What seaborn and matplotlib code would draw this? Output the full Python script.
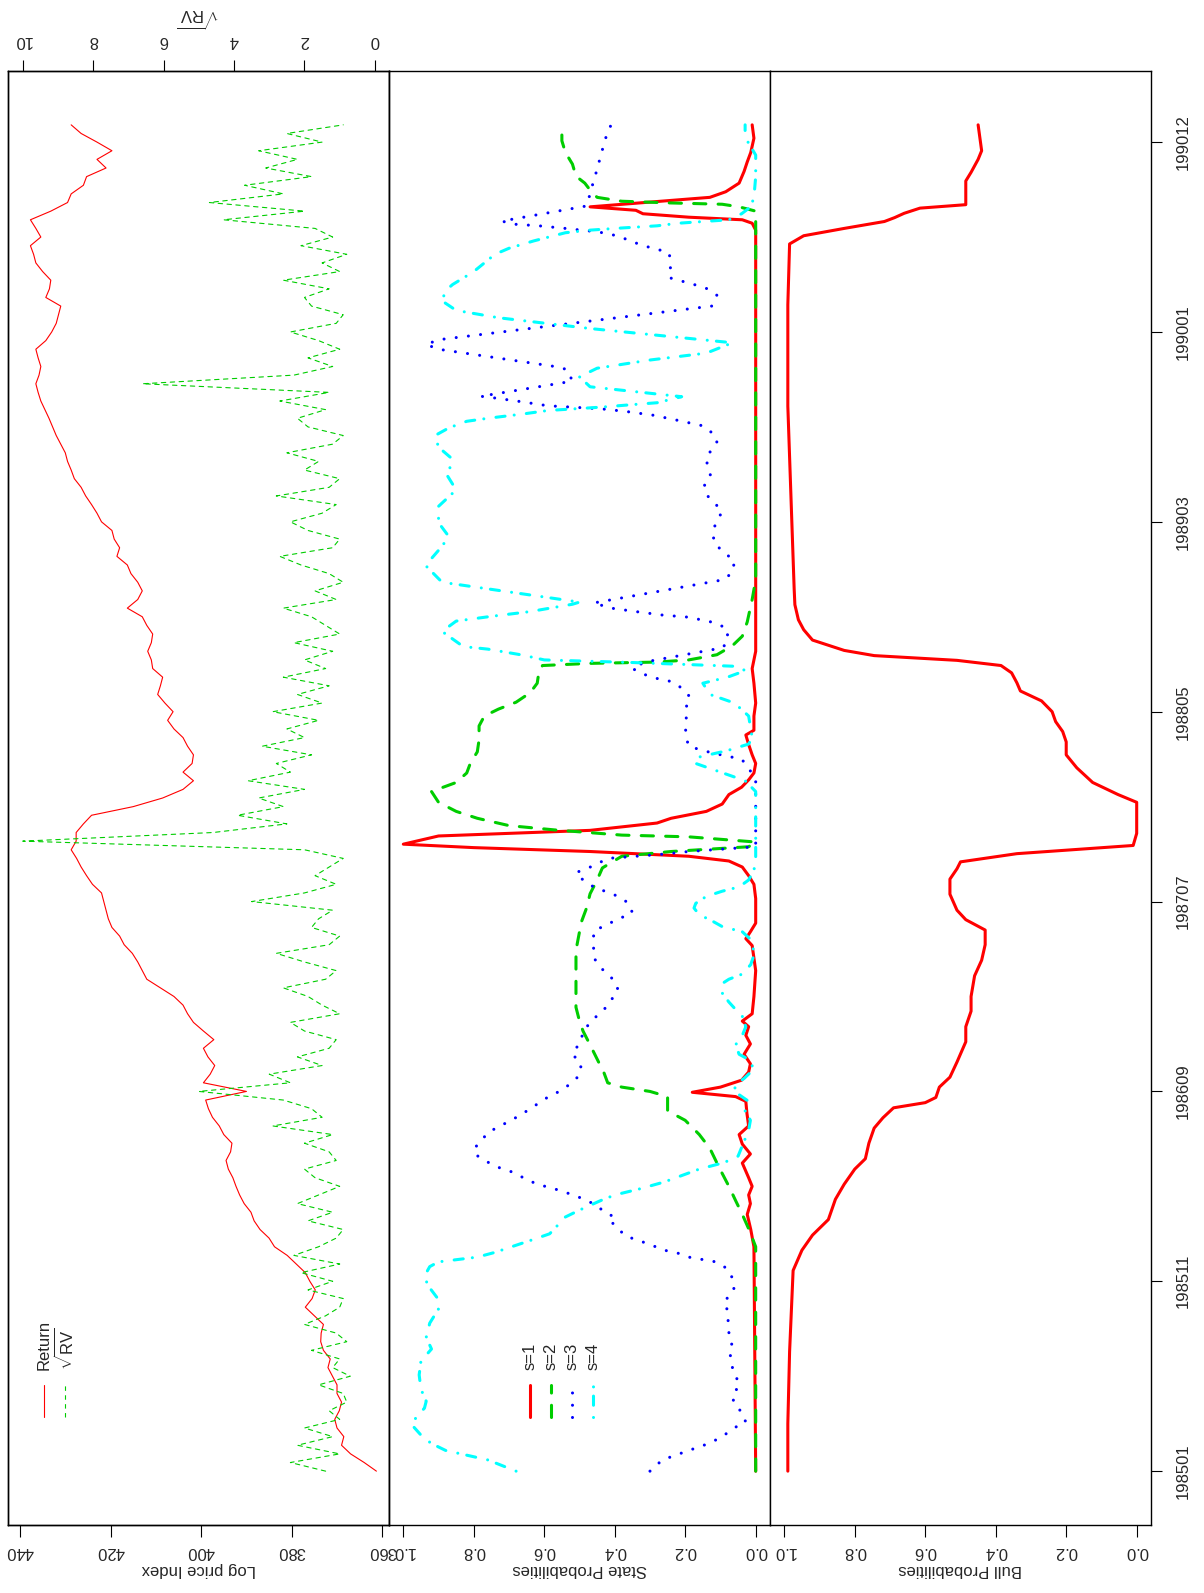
import matplotlib
matplotlib.use("Agg")
import matplotlib.pyplot as plt
import seaborn as sns
import numpy as np

# ---------------- data ----------------
# time index (weeks since 1985-01), ticks every 44 weeks
tick_pos = [0, 44, 88, 132, 176, 220, 264, 308]
tick_labels = ["198501", "198511", "198609", "198707", "198805", "198903", "199001", "199012"]

week_grid = list(range(0, 313, 2))

log_price = [
    361.3, 364.0, 367.0, 369.0, 368.5, 370.0, 370.5, 369.5, 369.0, 370.0,
    370.0, 371.0, 372.0, 371.5, 373.0, 373.6, 373.5, 373.0, 375.0, 377.0,
    375.5, 374.8, 376.0, 377.0, 379.0, 381.0, 383.8, 385.0, 387.0, 388.3,
    389.0, 390.5, 391.5, 392.3, 393.0, 394.0, 394.5, 393.5, 393.2, 395.0,
    396.0, 397.5, 398.4, 399.0, 390.0, 399.5, 398.0, 397.0, 398.5, 399.5,
    397.2, 399.5, 401.7, 403.0, 404.0, 406.0, 409.0, 412.0, 413.0, 414.0,
    415.2, 417.0, 418.0, 419.7, 420.5, 421.0, 421.5, 422.0, 424.0, 425.3,
    426.5, 427.5, 428.7, 427.6, 427.6, 426.0, 424.2, 415.0, 408.5, 404.0,
    401.7, 404.0, 402.0, 401.7, 403.0, 404.0, 406.0, 407.4, 406.2, 408.0,
    409.6, 409.0, 408.5, 410.7, 411.0, 411.8, 411.0, 410.7, 412.0, 413.0,
    416.3, 414.0, 413.0, 414.0, 415.5, 416.3, 418.6, 418.0, 419.2, 419.7,
    422.0, 423.0, 424.2, 425.5, 426.5, 428.0, 428.7, 429.5, 430.0, 431.0,
    432.0, 432.8, 433.6, 434.5, 435.4, 436.0, 436.5, 435.8, 435.4, 436.0,
    436.5, 434.3, 433.0, 432.0, 431.5, 431.0, 434.3, 433.5, 433.2, 435.0,
    436.5, 437.0, 437.7, 435.4, 436.5, 437.7, 433.2, 429.5, 428.7, 426.0,
    425.3, 421.0, 423.0, 419.7, 423.0, 426.5, 428.7,
]

sqrt_rv = [
    1.4, 2.4, 1.0, 2.2, 1.2, 2.0,
    1.0, 1.3, 0.8, 0.9, 1.6, 0.7, 1.2, 1.0, 1.8, 0.8,
    1.1, 2.0, 1.4, 1.0, 0.9, 1.9, 1.2, 2.1, 1.0, 2.3,
    1.6, 1.1, 0.9, 1.9, 1.2, 2.2, 1.6, 1.0, 1.7, 2.0,
    1.1, 1.3, 2.0, 1.2, 2.9, 1.5,
    1.8, 2.6, 5.0, 2.4, 3.0, 1.5, 2.2,
    1.3, 1.1, 2.0, 2.4, 1.0, 1.5, 1.9, 2.6, 1.4, 1.1, 2.0, 2.8, 1.3, 1.0, 1.8, 1.6, 1.2,
    3.5, 2.0, 1.1, 1.7, 1.3, 0.9, 2.0,
    10.0, 4.6, 2.5, 3.9, 2.6, 3.3, 2.0, 3.6, 2.4, 2.8, 1.8, 3.2, 2.0, 2.5, 1.6, 2.9,
    1.5, 2.2, 1.3, 2.6, 1.4, 2.0,
    1.2, 2.3, 1.0, 1.4, 1.8, 2.6, 1.1, 1.7, 0.9, 1.3, 2.1, 2.7, 1.2, 1.0, 1.9, 2.4,
    1.5, 1.1, 2.8, 1.3, 1.0, 2.0, 1.6, 2.5, 1.2, 0.9, 1.9, 2.2, 1.4, 2.7, 1.3,
    6.6, 2.3,
    1.2, 1.9, 1.0, 1.6, 2.4, 1.1, 0.9, 1.8, 2.0, 1.3, 2.6, 1.0, 1.5, 0.8, 2.1, 1.2, 1.7,
    4.3, 2.0, 4.7, 2.6, 3.7, 1.8, 3.1, 2.2, 3.3, 1.5, 2.5, 0.9,
]

# state probabilities: (week, probability)
state1 = [
    (0, 0.0), (52, 0.005), (56, 0.014), (59.5, 0.024), (62, 0.015), (64, 0.02), (66, 0.01),
    (68, 0.02), (71.4, 0.038), (73.5, 0.015), (75.8, 0.038), (78, 0.047), (80, 0.02),
    (83, 0.025), (85.7, 0.028), (86.8, 0.057), (87.8, 0.18), (89, 0.10), (90.6, 0.04),
    (92.5, 0.02), (94.4, 0.015), (96.6, 0.033), (99, 0.015), (101, 0.028), (103, 0.02),
    (104.3, 0.038), (106, 0.01), (110, 0.005), (116, 0.0), (121.8, 0.01), (123.4, 0.028),
    (125, 0.015), (127, 0.0), (132.7, 0.0), (136, 0.005), (138, 0.02), (140, 0.038),
    (141.4, 0.076), (142.5, 0.19), (143.6, 0.47), (144.5, 0.8), (145.3, 1.0), (147.2, 0.9),
    (148.5, 0.47), (150.2, 0.28), (151.3, 0.24), (152.9, 0.14), (154.6, 0.095),
    (156.8, 0.076), (158.5, 0.04), (160.2, 0.02), (161.8, 0.005), (164, 0.0), (166, 0.01),
    (168.4, 0.02), (170.6, 0.028), (171.7, 0.005), (175, 0.005), (178, 0.0), (182.6, 0.005),
    (186, 0.01), (190, 0.0), (287.6, 0.0), (289.2, 0.01), (290, 0.038), (290.6, 0.19),
    (291.4, 0.32), (292.2, 0.34), (293, 0.47), (294.1, 0.3), (295.2, 0.13), (296.5, 0.085),
    (298.5, 0.047), (301.2, 0.033), (303.4, 0.024), (305.6, 0.014), (308.9, 0.005), (312, 0.01),
]

state2 = [
    (0, 0.0), (52, 0.0), (56, 0.019), (59.5, 0.038), (62.7, 0.057), (66, 0.076), (70.4, 0.104),
    (74.8, 0.13), (78, 0.16), (81.3, 0.2), (83.5, 0.25), (86.8, 0.25), (88, 0.30), (89, 0.38),
    (90, 0.42), (92.2, 0.43), (95.5, 0.45), (98.8, 0.47), (102, 0.49), (104.3, 0.50),
    (107.5, 0.51), (111.9, 0.51), (116.3, 0.51), (120.7, 0.51), (125, 0.50), (127.2, 0.495),
    (130.5, 0.48), (133.8, 0.47), (137, 0.45), (139.8, 0.435), (142.5, 0.38), (143.6, 0.24),
    (144.7, 0.02), (145.8, 0.0), (147, 0.19), (147.4, 0.38), (148.6, 0.57), (149.6, 0.70),
    (151.3, 0.79), (152.9, 0.85), (155, 0.90), (157.5, 0.92), (159.6, 0.85), (161.8, 0.82),
    (164, 0.81), (166.7, 0.79), (169.5, 0.785), (172.7, 0.785), (175, 0.77), (176.6, 0.73),
    (178.2, 0.68), (180.4, 0.64), (182.6, 0.62), (185.3, 0.615), (186.7, 0.605),
    (187.2, 0.47), (187.5, 0.28), (188, 0.19), (189.2, 0.11), (191.3, 0.066), (193.5, 0.038),
    (196.8, 0.024), (202, 0.01), (206.6, 0.0), (292, 0.0), (293, 0.047), (293.6, 0.095),
    (293.9, 0.24), (294.3, 0.38), (295.2, 0.45), (296.9, 0.47), (298.5, 0.485),
    (300.1, 0.51), (302.9, 0.52), (305.6, 0.54), (308.3, 0.55), (312, 0.55),
]

state3 = [
    (0, 0.30), (2.6, 0.265), (3.7, 0.227), (4.8, 0.19), (5.9, 0.15), (7, 0.118), (8.6, 0.085),
    (10.2, 0.057), (11.3, 0.028), (13.5, 0.038), (15.7, 0.062), (17.9, 0.066), (19.6, 0.047),
    (21.2, 0.052), (23.4, 0.066), (25.5, 0.066), (27.7, 0.076), (29.9, 0.066), (32.1, 0.076),
    (33.7, 0.08), (36.5, 0.076), (39.2, 0.09), (41.9, 0.062), (44.1, 0.062), (46.9, 0.08),
    (48.5, 0.113), (49.6, 0.19), (50.7, 0.227), (51.2, 0.26), (52.3, 0.293), (53.4, 0.33),
    (54.5, 0.37), (56.2, 0.39), (57.8, 0.41), (58.9, 0.40), (60, 0.43), (61.6, 0.45),
    (62.7, 0.48), (63.8, 0.51), (65.4, 0.57), (66.5, 0.62), (67.6, 0.65), (69.3, 0.69),
    (70.4, 0.73), (72, 0.77), (73.1, 0.79), (74.7, 0.80), (76.4, 0.78), (78.5, 0.76),
    (80.2, 0.72), (82.4, 0.67), (84.5, 0.63), (86.2, 0.60), (87.9, 0.56), (89.5, 0.53),
    (91.7, 0.50), (94.4, 0.495), (96.6, 0.52), (99.9, 0.495), (102, 0.49), (104.8, 0.46),
    (107, 0.43), (109.2, 0.41), (111.4, 0.39), (113.6, 0.40), (116.3, 0.435), (119, 0.46),
    (121.8, 0.46), (125, 0.46), (126.2, 0.435), (128.3, 0.38), (129.4, 0.35), (131.6, 0.36),
    (133.2, 0.39), (135.4, 0.46), (137, 0.49), (138.7, 0.51), (140.3, 0.46), (142, 0.42),
    (142.5, 0.34), (143, 0.26), (143.6, 0.19), (144.7, 0.0), (160, 0.0), (163, 0.02),
    (165, 0.04), (166.2, 0.11), (167, 0.15), (168, 0.19), (170.8, 0.20), (173.8, 0.196),
    (176.6, 0.20), (179.3, 0.185), (181.5, 0.21), (183, 0.24), (183.7, 0.28), (184.6, 0.315),
    (186, 0.35), (187.5, 0.315), (190.8, 0.095), (192.1, 0.08), (195.2, 0.08), (196.6, 0.115),
    (197.9, 0.19), (198.4, 0.265), (199.2, 0.34), (200, 0.41), (201.2, 0.46), (206.6, 0.09),
    (208.3, 0.066), (211, 0.06), (213.2, 0.095), (215.4, 0.12), (218.7, 0.118), (222.5, 0.095),
    (226.3, 0.14), (228.5, 0.145), (230.7, 0.128), (232.9, 0.137), (235, 0.14), (238.4, 0.11),
    (240, 0.115), (242.2, 0.147), (243.5, 0.22), (244.7, 0.29), (245.6, 0.37), (246.2, 0.44),
    (246.9, 0.59), (247.9, 0.67), (248.7, 0.74), (249.1, 0.78), (252.6, 0.52), (255.3, 0.535),
    (256, 0.57), (260, 0.90), (261.1, 0.935), (262.2, 0.90), (270, 0.125), (272.5, 0.11),
    (274.1, 0.14), (275, 0.175), (276.6, 0.246), (280, 0.24), (282.3, 0.246), (283.2, 0.28),
    (284, 0.32), (285.1, 0.355), (286.2, 0.39), (286.9, 0.426), (287.3, 0.46), (288, 0.54),
    (288.6, 0.615), (289, 0.69), (289.7, 0.72), (293.2, 0.48), (296, 0.47), (299, 0.46),
    (301.7, 0.45), (304.8, 0.44), (307.7, 0.43), (310.5, 0.42), (312, 0.41),
]

state4 = [
    (0, 0.68), (2.6, 0.76), (3.7, 0.82), (4.8, 0.88), (6.4, 0.92), (8, 0.946), (10.2, 0.97),
    (12.4, 0.965), (14.6, 0.94), (16.2, 0.935), (19, 0.95), (22.3, 0.955), (25.5, 0.95),
    (28.3, 0.92), (31, 0.935), (34.3, 0.925), (37.6, 0.90), (40.3, 0.905), (43, 0.93),
    (45.2, 0.94), (47.4, 0.925), (48.5, 0.90), (49, 0.85), (49.6, 0.79), (50.7, 0.74),
    (51.8, 0.70), (52.9, 0.66), (54, 0.62), (55, 0.585), (56.2, 0.57), (57.2, 0.56),
    (58.9, 0.54), (60.5, 0.50), (62.7, 0.44), (64, 0.40), (65.4, 0.33), (67, 0.26),
    (68.5, 0.21), (70, 0.16), (71.5, 0.09), (73, 0.05), (75, 0.04), (77, 0.03), (79, 0.02),
    (81.3, 0.015), (83.5, 0.03), (85.7, 0.02), (87.8, 0.057), (89.5, 0.06), (91, 0.033),
    (92.8, 0.01), (95, 0.01), (96.6, 0.047), (98.8, 0.057), (101, 0.038), (103, 0.028),
    (105.4, 0.038), (107, 0.057), (108.7, 0.076), (110.8, 0.095), (113, 0.095), (114, 0.076),
    (115.2, 0.038), (117.4, 0.014), (119.6, 0.005), (122.9, 0.01), (125, 0.038), (126.2, 0.095),
    (127.8, 0.13), (128.9, 0.16), (130.5, 0.175), (131.6, 0.17), (133.2, 0.14), (134.4, 0.095),
    (135.4, 0.047), (137, 0.02), (139.3, 0.005), (141.4, 0.0), (157.5, 0.0), (160, 0.03),
    (162, 0.1), (164, 0.17), (165.5, 0.16), (167, 0.08), (168.5, 0.02), (170, 0.01),
    (175, 0.02), (178, 0.06), (180, 0.13), (182.6, 0.15), (184, 0.08), (185.5, 0.03),
    (186.5, 0.05), (187.4, 0.35), (188, 0.6), (189.1, 0.66), (190.5, 0.76), (191.1, 0.83),
    (194.6, 0.89), (197, 0.85), (198.1, 0.75), (199.2, 0.64), (200.9, 0.52), (201.4, 0.5),
    (206, 0.89), (209.9, 0.937), (213.4, 0.90), (216.5, 0.87), (219.8, 0.90), (223.6, 0.90),
    (227.4, 0.85), (230.7, 0.875), (234.5, 0.86), (237.3, 0.90), (240, 0.91), (241.8, 0.87),
    (243.3, 0.82), (244, 0.76), (245, 0.66), (245.8, 0.59), (246.2, 0.51), (246.6, 0.435),
    (247.1, 0.36), (247.6, 0.28), (249, 0.21), (251.3, 0.47), (253.6, 0.50), (255.6, 0.45),
    (257.5, 0.30), (259.1, 0.14), (261.5, 0.066), (264.8, 0.47), (267.3, 0.73), (269, 0.85),
    (271.2, 0.89), (273.6, 0.88), (275, 0.86), (278, 0.80), (280, 0.77), (282, 0.74),
    (283.4, 0.70), (285.1, 0.63), (287, 0.54), (287.6, 0.47), (288.1, 0.38), (288.6, 0.28),
    (289.2, 0.22), (289.7, 0.13), (290, 0.076), (291.4, 0.04), (293, 0.014), (295.2, 0.005),
    (300, 0.0), (305, 0.0), (308.3, 0.024), (310.5, 0.03), (312, 0.03),
]

bull = [
    (0, 0.99), (11, 0.99), (27.7, 0.985), (46.5, 0.975), (51.2, 0.95), (54.7, 0.92),
    (58.3, 0.875), (63, 0.855), (66.5, 0.83), (70, 0.80), (72.4, 0.77), (76, 0.76),
    (79.5, 0.745), (81.9, 0.72), (84.2, 0.69), (85.4, 0.60), (86.6, 0.57), (89, 0.56),
    (91.3, 0.53), (94.8, 0.51), (99.5, 0.485), (103, 0.485), (106.6, 0.47), (110, 0.47),
    (114.8, 0.46), (118.4, 0.44), (122, 0.43), (125.4, 0.43), (127.8, 0.485), (130, 0.51),
    (133.7, 0.53), (137.2, 0.53), (139.6, 0.51), (141.2, 0.50), (143.1, 0.34), (145, 0.01),
    (147.8, 0.0), (155, 0.0), (156.8, 0.053), (159.6, 0.125), (163, 0.17), (166, 0.2),
    (169, 0.2), (171.4, 0.21), (173.7, 0.23), (176, 0.24), (178.5, 0.27), (180.8, 0.33),
    (182.7, 0.34), (185, 0.355), (186.7, 0.385), (187.9, 0.51), (189, 0.745), (190.2, 0.83),
    (192.6, 0.92), (195, 0.945), (197.3, 0.96), (200.8, 0.97), (204.4, 0.972), (223.2, 0.98),
    (246.8, 0.99), (270.3, 0.99), (284.4, 0.985), (286.3, 0.945), (288, 0.83), (289.6, 0.716),
    (290.5, 0.687), (291.5, 0.66), (292.7, 0.615), (293.5, 0.485), (299, 0.485), (301, 0.47),
    (304, 0.45), (306, 0.44), (309, 0.445), (312, 0.45),
]

# ---------------- style ----------------
sns.set_style("ticks")
plt.rcParams["font.family"] = ["Liberation Sans", "DejaVu Sans"]
plt.rcParams["mathtext.fontset"] = "custom"
plt.rcParams["mathtext.rm"] = "Liberation Sans"
plt.rcParams["mathtext.it"] = "Liberation Sans"
plt.rcParams["axes.linewidth"] = 1.0
plt.rcParams["axes.edgecolor"] = "black"

RED, GREEN, BLUE, CYAN = "#FF0000", "#00CD00", "#0000FF", "#00FFFF"
LS_SOLID = "-"
LS_DASH = (0, (4, 4))
LS_DOT = (0, (0.01, 4))
LS_DASHDOT = (0, (0.01, 4, 3, 3))

W, H = 1204, 1593
fig = plt.figure(figsize=(W / 100, H / 100), dpi=100)
top_px, bot_px = 71, 1525
edges = [8, 389, 770, 1151]
axes = []
for i in range(3):
    ax = fig.add_axes([edges[i] / W, (H - bot_px) / H, (edges[i + 1] - edges[i]) / W,
                       (bot_px - top_px) / H])
    axes.append(ax)
ax1, ax2, ax3 = axes

T_LIM = (-12.48, 324.48)
FS = 12


def draw(ax, t, v, color, lw, ls):
    sns.lineplot(x=list(v), y=list(t), orient="y", sort=False, estimator=None, color=color,
                 linewidth=lw, linestyle=ls, ax=ax, dash_capstyle="round",
                 solid_capstyle="round", solid_joinstyle="round")


# panel 1: log price + sqrt RV
draw(ax1, week_grid, log_price, RED, 0.8, LS_SOLID)
ax1b = ax1.twiny()
draw(ax1b, week_grid, sqrt_rv, GREEN, 0.8, LS_DASH)
ax1.set_xlim(442.65, 358.52)
ax1b.set_xlim(10.42, -0.40)
ax1.set_xticks([360, 380, 400, 420, 440])
ax1.set_xticklabels(["360", "380", "400", "420", "440"])
ax1b.set_xticks([0, 2, 4, 6, 8, 10])
ax1b.set_xticklabels(["0", "2", "4", "6", "8", "10"])

# panel 2: state probabilities
for data, col, ls in [(state1, RED, LS_SOLID), (state2, GREEN, LS_DASH),
                      (state3, BLUE, LS_DOT), (state4, CYAN, LS_DASHDOT)]:
    tt = [p[0] for p in data]
    vv = [p[1] for p in data]
    draw(ax2, tt, vv, col, 2.2, ls)

# panel 3: bull probabilities
draw(ax3, [p[0] for p in bull], [p[1] for p in bull], RED, 2.2, LS_SOLID)

prob_ticks = [0.0, 0.2, 0.4, 0.6, 0.8, 1.0]
for ax in (ax2, ax3):
    ax.set_xlim(1.0406, -0.0406)
    ax.set_xticks(prob_ticks)
    ax.set_xticklabels([f"{p:.1f}" for p in prob_ticks])

for ax in (ax1, ax1b, ax2, ax3):
    ax.set_ylim(*T_LIM)
    ax.set_ylabel("")
    for s in ax.spines.values():
        s.set_visible(True)
        s.set_linewidth(1.0)
        s.set_color("black")

for ax in (ax1, ax2, ax3):
    ax.tick_params(axis="x", bottom=True, top=False, labelbottom=True, labeltop=False,
                   labelrotation=180, length=8.6, width=0.8, labelsize=FS, pad=5.2,
                   direction="out", color="black")
ax1b.tick_params(axis="x", top=True, bottom=False, labeltop=True, labelbottom=False,
                 labelrotation=180, length=8.0, width=0.8, labelsize=FS, pad=8.2,
                 direction="out", color="black")

ax1.set_yticks([])
ax1b.set_yticks([])
ax2.set_yticks([])
ax3.set_yticks(tick_pos)
ax3.set_yticklabels(tick_labels)
ax3.yaxis.tick_right()
ax3.tick_params(axis="y", left=False, right=True, labelleft=False, labelright=True,
                labelrotation=90, length=8.0, width=0.8, labelsize=FS, pad=9.5,
                direction="out", color="black")
for lab in ax3.get_yticklabels():
    lab.set_verticalalignment("center")

ax1.set_xlabel("Log price Index", rotation=180, fontsize=FS, labelpad=2)
ax2.set_xlabel("State Probabilities", rotation=180, fontsize=FS, labelpad=2)
ax3.set_xlabel("Bull Probabilities", rotation=180, fontsize=FS, labelpad=2)
ax1b.set_xlabel(r"$\sqrt{\mathrm{RV}}$", rotation=180, fontsize=FS, labelpad=6)

# legends (drawn manually, rotated like the chart)
def fy(ypx):
    return (bot_px - ypx) / (bot_px - top_px)


def fx(ax_i, xpx):
    return (xpx - edges[ax_i]) / (edges[ax_i + 1] - edges[ax_i])


leg1 = [("Return", RED, LS_SOLID, 44), (r"$\sqrt{\mathrm{RV}}$", GREEN, LS_DASH, 65)]
for lab, col, ls, xp in leg1:
    ax1.plot([fx(0, xp), fx(0, xp)], [fy(1417), fy(1385)], transform=ax1.transAxes,
             color=col, lw=0.8, linestyle=ls)
    ax1.text(fx(0, xp), fy(1370), lab, transform=ax1.transAxes, rotation=90,
             ha="center", va="bottom", fontsize=FS)

leg2 = [("s=1", RED, LS_SOLID, 530), ("s=2", GREEN, LS_DASH, 551),
        ("s=3", BLUE, LS_DOT, 572), ("s=4", CYAN, LS_DASHDOT, 593)]
for lab, col, ls, xp in leg2:
    ax2.plot([fx(1, xp), fx(1, xp)], [fy(1417), fy(1385)], transform=ax2.transAxes,
             color=col, lw=2.2, linestyle=ls, dash_capstyle="round", solid_capstyle="round")
    ax2.text(fx(1, xp), fy(1370), lab, transform=ax2.transAxes, rotation=90,
             ha="center", va="bottom", fontsize=FS)

for ax in (ax1, ax1b, ax2, ax3):
    lg = ax.get_legend()
    if lg is not None:
        lg.remove()

fig.savefig("out.png", dpi=100, facecolor="white")
